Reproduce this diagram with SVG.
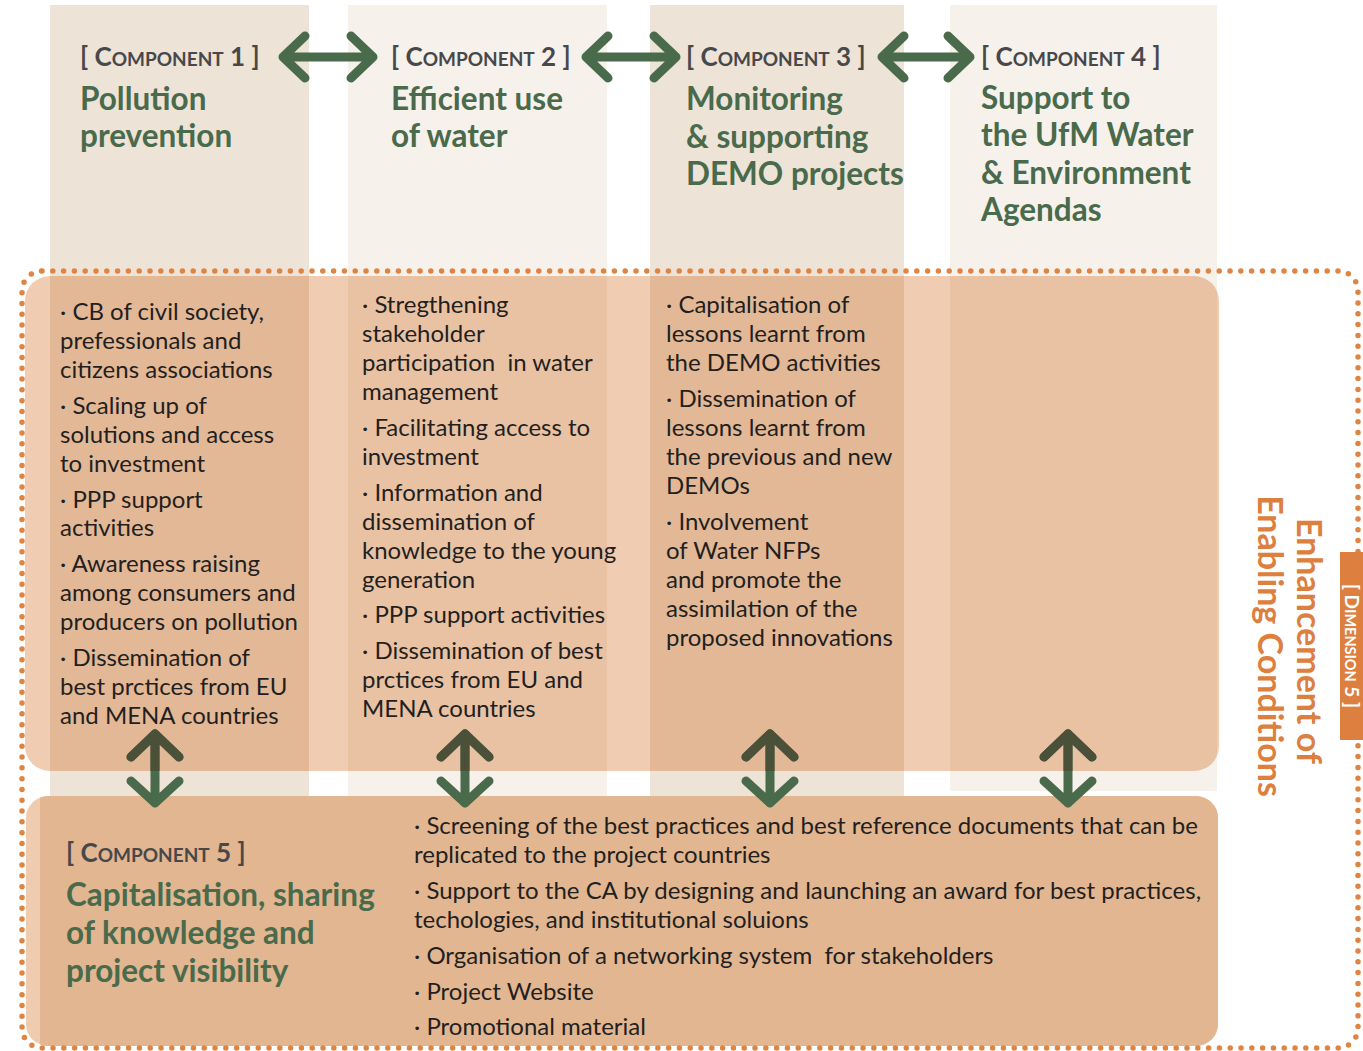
<svg xmlns="http://www.w3.org/2000/svg" width="1363" height="1051" viewBox="0 0 1363 1051">
  <style>
    .b { font-family: Lato, "Liberation Sans", sans-serif; font-size: 24px; fill: #231f20; white-space: pre; }
    .hd { font-family: Lato, "Liberation Sans", sans-serif; font-weight: bold; fill: #48484b; }
    .big { font-size: 26px; }
    .sc { font-size: 19px; }
    .tt { font-family: Lato, "Liberation Sans", sans-serif; font-weight: bold; font-size: 31.5px; fill: #4a6a4c; }
    .vt { font-family: Lato, "Liberation Sans", sans-serif; font-weight: bold; font-size: 34px; fill: #dd7f3e; }
    .arrow { fill: none; stroke: #4a6a4c; stroke-width: 9; stroke-linecap: round; stroke-linejoin: round; }
    .arrow-dark { fill: none; stroke: #4b5139; stroke-width: 9; stroke-linecap: round; stroke-linejoin: round; }
  </style>
  <defs>
    <clipPath id="bandClip">
      <rect x="25" y="276" width="1194" height="495" rx="25"/>
    </clipPath>
    <clipPath id="c5Clip">
      <rect x="26" y="796" width="1192" height="250" rx="22"/>
    </clipPath>
  </defs>

  <g id="column-backgrounds">
    <rect x="50" y="5" width="259" height="791" fill="#ede3d7"/>
    <rect x="348" y="5" width="259" height="791" fill="#f6f1eb"/>
    <rect x="650" y="5" width="254" height="791" fill="#ede3d7"/>
    <rect x="950" y="5" width="267" height="786" fill="#f6f1eb"/>
  </g>

  <g id="activities-band">
    <rect x="25" y="276" width="1194" height="495" rx="25" fill="rgb(202,85,0)" fill-opacity="0.3"/>
  </g>

  <g id="component5-box">
    <rect x="26" y="796" width="1192" height="250" rx="22" fill="#efccb0"/>
    <rect x="40" y="796" width="1178" height="250" fill="#e2b690" clip-path="url(#c5Clip)"/>
  </g>

  <g id="dimension5-border">
    <rect x="22" y="271" width="1336" height="777" rx="20" fill="none" stroke="#df8544" stroke-width="5.5" stroke-linecap="round" stroke-dasharray="0 10.8"/>
  </g>

  <g id="component1">
    <text class="hd" x="80" y="66"><tspan class="big">[ C</tspan><tspan class="sc">OMPONENT</tspan><tspan class="big"> 1 ]</tspan></text>
    <text class="tt" x="80" y="110">Pollution</text>
    <text class="tt" x="80" y="147">prevention</text>
    <text class="b" x="60" y="320">· CB of civil society,</text>
    <text class="b" x="60" y="349">prefessionals and</text>
    <text class="b" x="60" y="378">citizens associations</text>
    <text class="b" x="60" y="414">· Scaling up of</text>
    <text class="b" x="60" y="443">solutions and access</text>
    <text class="b" x="60" y="472">to investment</text>
    <text class="b" x="60" y="508">· PPP support</text>
    <text class="b" x="60" y="536">activities</text>
    <text class="b" x="60" y="572">· Awareness raising</text>
    <text class="b" x="60" y="601">among consumers and</text>
    <text class="b" x="60" y="630">producers on pollution</text>
    <text class="b" x="60" y="666">· Dissemination of</text>
    <text class="b" x="60" y="695">best prctices from EU</text>
    <text class="b" x="60" y="724">and MENA countries</text>
  </g>

  <g id="component2">
    <text class="hd" x="391" y="66"><tspan class="big">[ C</tspan><tspan class="sc">OMPONENT</tspan><tspan class="big"> 2 ]</tspan></text>
    <text class="tt" x="391" y="110">Efficient use</text>
    <text class="tt" x="391" y="147">of water</text>
    <text class="b" x="362" y="313">· Stregthening</text>
    <text class="b" x="362" y="342">stakeholder</text>
    <text class="b" x="362" y="371">participation  in water</text>
    <text class="b" x="362" y="400">management</text>
    <text class="b" x="362" y="436">· Facilitating access to</text>
    <text class="b" x="362" y="465">investment</text>
    <text class="b" x="362" y="501">· Information and</text>
    <text class="b" x="362" y="530">dissemination of</text>
    <text class="b" x="362" y="559">knowledge to the young</text>
    <text class="b" x="362" y="588">generation</text>
    <text class="b" x="362" y="623">· PPP support activities</text>
    <text class="b" x="362" y="659">· Dissemination of best</text>
    <text class="b" x="362" y="688">prctices from EU and</text>
    <text class="b" x="362" y="717">MENA countries</text>
  </g>

  <g id="component3">
    <text class="hd" x="686" y="66"><tspan class="big">[ C</tspan><tspan class="sc">OMPONENT</tspan><tspan class="big"> 3 ]</tspan></text>
    <text class="tt" x="686" y="110">Monitoring</text>
    <text class="tt" x="686" y="148">&amp; supporting</text>
    <text class="tt" x="686" y="185">DEMO projects</text>
    <text class="b" x="666" y="313">· Capitalisation of</text>
    <text class="b" x="666" y="342">lessons learnt from</text>
    <text class="b" x="666" y="371">the DEMO activities</text>
    <text class="b" x="666" y="407">· Dissemination of</text>
    <text class="b" x="666" y="436">lessons learnt from</text>
    <text class="b" x="666" y="465">the previous and new</text>
    <text class="b" x="666" y="494">DEMOs</text>
    <text class="b" x="666" y="530">· Involvement</text>
    <text class="b" x="666" y="559">of Water NFPs</text>
    <text class="b" x="666" y="588">and promote the</text>
    <text class="b" x="666" y="617">assimilation of the</text>
    <text class="b" x="666" y="646">proposed innovations</text>
  </g>

  <g id="component4">
    <text class="hd" x="981" y="66"><tspan class="big">[ C</tspan><tspan class="sc">OMPONENT</tspan><tspan class="big"> 4 ]</tspan></text>
    <text class="tt" x="981" y="109">Support to</text>
    <text class="tt" x="981" y="146">the UfM Water</text>
    <text class="tt" x="981" y="184">&amp; Environment</text>
    <text class="tt" x="981" y="221">Agendas</text>
  </g>

  <g id="component5">
    <text class="hd" x="66" y="862"><tspan class="big">[ C</tspan><tspan class="sc">OMPONENT</tspan><tspan class="big"> 5 ]</tspan></text>
    <text class="tt" x="66" y="906">Capitalisation, sharing</text>
    <text class="tt" x="66" y="944">of knowledge and</text>
    <text class="tt" x="66" y="982">project visibility</text>
    <text class="b" x="414" y="834">· Screening of the best practices and best reference documents that can be</text>
    <text class="b" x="414" y="863">replicated to the project countries</text>
    <text class="b" x="414" y="899">· Support to the CA by designing and launching an award for best practices,</text>
    <text class="b" x="414" y="928">techologies, and institutional soluions</text>
    <text class="b" x="414" y="964">· Organisation of a networking system  for stakeholders</text>
    <text class="b" x="414" y="1000">· Project Website</text>
    <text class="b" x="414" y="1035">· Promotional material</text>
  </g>

  <g id="dimension5">
    <text class="vt" transform="translate(1297,641) rotate(90)" text-anchor="middle">Enhancement of</text>
    <text class="vt" transform="translate(1258,646) rotate(90)" text-anchor="middle">Enabling Conditions</text>
    <rect x="1340" y="552" width="30" height="188" fill="#dc7f3f"/>
    <text transform="translate(1345,646) rotate(90)" text-anchor="middle" font-family="Lato, 'Liberation Sans', sans-serif" font-weight="bold" fill="#ffffff"><tspan font-size="19">[ D</tspan><tspan font-size="14.5">IMENSION</tspan><tspan font-size="19"> 5 ]</tspan></text>
  </g>

  <g id="connectors">
    <path class="arrow" d="M283,57 H373 M305,36 L283,57 L305,78 M351,36 L373,57 L351,78"/>
    <path class="arrow" d="M586,57 H676 M608,36 L586,57 L608,78 M654,36 L676,57 L654,78"/>
    <path class="arrow" d="M882,57 H970 M904,36 L882,57 L904,78 M948,36 L970,57 L948,78"/>
    <g id="vertical-arrows">
      <path class="arrow" d="M155,734 V803 M131,757 L155,734 L179,757 M131,781 L155,803 L179,781"/>
      <path class="arrow" d="M465,734 V803 M441,757 L465,734 L489,757 M441,781 L465,803 L489,781"/>
      <path class="arrow" d="M770,734 V803 M746,757 L770,734 L794,757 M746,781 L770,803 L794,781"/>
      <path class="arrow" d="M1068,734 V803 M1044,757 L1068,734 L1092,757 M1044,781 L1068,803 L1092,781"/>
    </g>
    <g clip-path="url(#bandClip)">
      <path class="arrow-dark" d="M155,734 V803 M131,757 L155,734 L179,757"/>
      <path class="arrow-dark" d="M465,734 V803 M441,757 L465,734 L489,757"/>
      <path class="arrow-dark" d="M770,734 V803 M746,757 L770,734 L794,757"/>
      <path class="arrow-dark" d="M1068,734 V803 M1044,757 L1068,734 L1092,757"/>
    </g>
  </g>
</svg>
